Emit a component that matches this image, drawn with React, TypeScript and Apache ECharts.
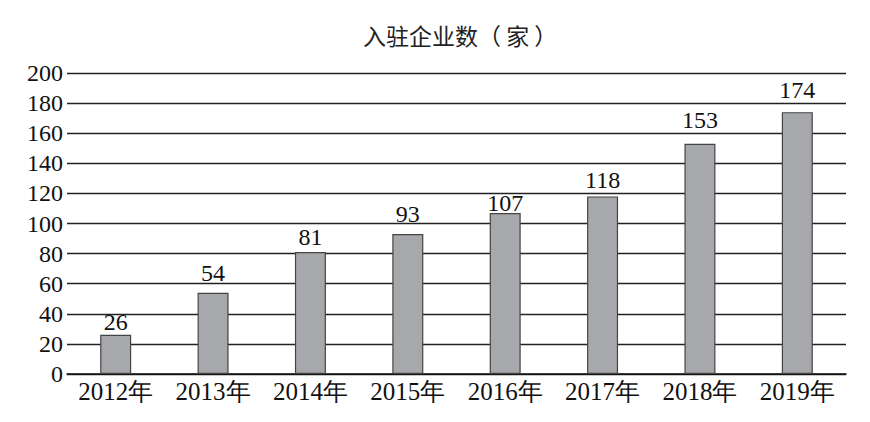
import React, { useEffect, useRef } from "react";
import * as echarts from "echarts";

const categories = ["2012年", "2013年", "2014年", "2015年", "2016年", "2017年", "2018年", "2019年"];
const values = [26, 54, 81, 93, 107, 118, 153, 174];
const titleText = "入驻企业数（ 家 ）";
// gap between bar top and its value label, as seen in the reference
const labelGaps = [1, 8, 3, 8, -2, 4, 12, 10];

export default function App() {
  const ref = useRef<HTMLDivElement>(null);
  useEffect(() => {
    document.body.style.margin = "0";
    const chart = echarts.init(ref.current!, null, { renderer: "svg" });
    const serif = "'Liberation Serif', 'Times New Roman', serif";
    chart.setOption({
      animation: false,
      backgroundColor: "#ffffff",
      title: {
        text: titleText,
        left: 358,
        top: 18,
        textStyle: {
          fontFamily: "'Noto Sans CJK SC', sans-serif",
          fontSize: 23,
          fontWeight: "normal",
          color: "#222",
        },
      },
      grid: { left: 67, right: 24, top: 73, bottom: 48 },
      xAxis: {
        type: "category",
        data: categories,
        axisLine: { show: true, lineStyle: { color: "#111", width: 1.5 } },
        axisTick: { show: false },
        axisLabel: {
          interval: 0,
          fontFamily: serif,
          fontSize: 25,
          color: "#111",
          margin: 5,
        },
      },
      yAxis: {
        type: "value",
        min: 0,
        max: 200,
        interval: 20,
        axisLine: { show: false },
        axisTick: { show: false },
        axisLabel: {
          fontFamily: serif,
          fontSize: 24,
          color: "#111",
          margin: 4,
        },
        splitLine: { show: true, lineStyle: { color: "#222", width: 1.3 } },
      },
      series: [
        {
          type: "bar",
          data: values.map((v, i) => ({ value: v, label: { distance: labelGaps[i] } })),
          barWidth: 31,
          itemStyle: { color: "#a7a8ab", borderColor: "#444", borderWidth: 1.2 },
          label: {
            show: true,
            position: "top",
            fontFamily: serif,
            fontSize: 24,
            color: "#111",
          },
        },
      ],
    });
    return () => chart.dispose();
  }, []);
  return <div ref={ref} style={{ width: 870, height: 422 }} />;
}
